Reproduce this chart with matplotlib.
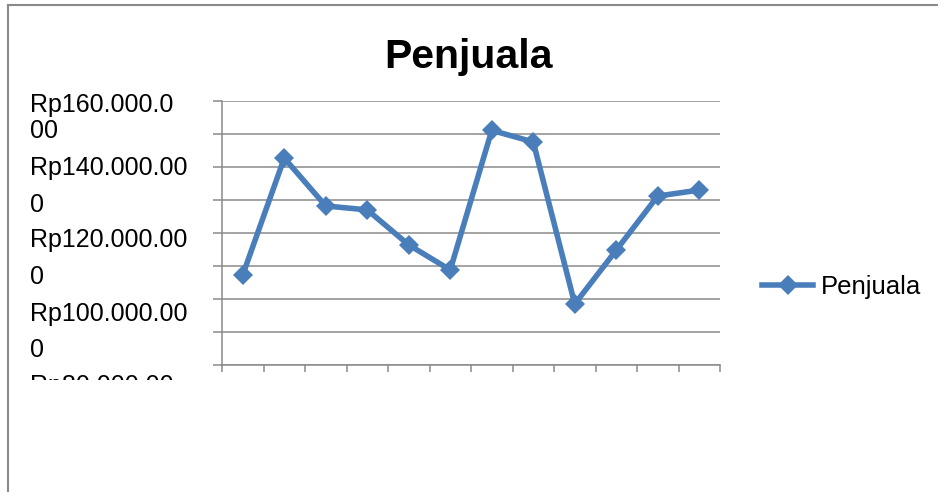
import matplotlib
matplotlib.use('Agg')
import matplotlib.pyplot as plt
from matplotlib.lines import Line2D
from matplotlib.transforms import Bbox, TransformedBbox, ScaledTranslation, blended_transform_factory

plt.rcParams['font.family'] = ['Liberation Sans', 'DejaVu Sans']

# data (rupiah)
bulan = list(range(1, 13))
penjualan = [107.3e6, 142.7e6, 128.2e6, 127.0e6, 116.4e6, 108.8e6,
             151.1e6, 147.6e6, 98.5e6, 114.8e6, 131.2e6, 133.0e6]
tick_vals = [160e6, 140e6, 120e6, 100e6, 80e6]
tick_labels = [['Rp160.000.0', '00'], ['Rp140.000.00', '0'], ['Rp120.000.00', '0'],
               ['Rp100.000.00', '0'], ['Rp80.000.00', '0']]

blue = '#4a7ebb'
gray = '#8a8a8a'

fig = plt.figure(figsize=(9.38, 4.92), dpi=100)
W, H = 938, 492
ax = fig.add_axes([222 / W, 1 - 365 / H, 498 / W, 264 / H])

x = list(range(len(bulan)))
ax.plot(x, penjualan, color=blue, lw=4, marker='D', ms=10.5, mew=0,
        label='Penjuala', solid_joinstyle='miter', zorder=3)

ax.set_xlim(-0.5, len(bulan) - 0.5)
ax.set_ylim(80e6, 160e6)
ax.set_xticks([i - 0.5 for i in range(len(bulan) + 1)])
ax.set_xticklabels([])
ax.set_yticks([80e6 + i * 10e6 for i in range(9)])
ax.set_yticklabels([])
ax.tick_params(axis='x', direction='out', length=5, width=1.1, color=gray)
ax.tick_params(axis='y', direction='out', length=6.5, width=1.1, color=gray)
ax.grid(axis='y', color=gray, lw=1.1)
ax.set_axisbelow(True)
for s in ['top', 'right']:
    ax.spines[s].set_visible(False)
for s in ['left', 'bottom']:
    ax.spines[s].set_color(gray)
    ax.spines[s].set_linewidth(1.1)

# wrapped y labels, Excel-like spacing, clipped at the bottom
first_off = [11, 8, 14, 22, 28]
second_off = [26, 37, 37, 36, 37]
clip = TransformedBbox(Bbox([[0, 0], [0.3, 1 - 380 / H]]), fig.transFigure)
clip = TransformedBbox(Bbox([[0, (H - 380) / H], [0.3, 1]]), fig.transFigure)
base = blended_transform_factory(fig.transFigure, ax.transData)
for v, lines, o1, o2 in zip(tick_vals, tick_labels, first_off, second_off):
    for txt, off in [(lines[0], o1), (lines[1], o1 + o2)]:
        tr = base + ScaledTranslation(0, -off / 100, fig.dpi_scale_trans)
        t = fig.text(30 / W, v, txt, transform=tr, fontsize=18, ha='left', va='baseline')
        t.set_clip_box(clip)
        t.set_clip_on(True)

fig.text(468 / W, 1 - 68 / H, 'Penjuala', fontsize=29.5, fontweight='bold',
         ha='center', va='baseline')

fig.legend(loc='center left', bbox_to_anchor=(762 / W, 1 - 287 / H), frameon=False,
           fontsize=18.5, handlelength=2.0, handletextpad=0.3, borderpad=0,
           borderaxespad=0, numpoints=1)

# chart border (top and left visible)
fig.add_artist(Line2D([7.5 / W, 1], [1 - 4.5 / H, 1 - 4.5 / H], color=gray, lw=1.5,
                      transform=fig.transFigure))
fig.add_artist(Line2D([7.5 / W, 7.5 / W], [0, 1 - 4.5 / H], color=gray, lw=1.5,
                      transform=fig.transFigure))

fig.savefig('out.png', dpi=100)
